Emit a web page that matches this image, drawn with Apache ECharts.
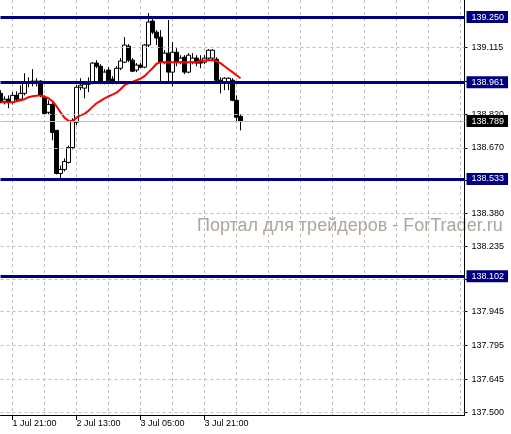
<!DOCTYPE html>
<html>
<head>
<meta charset="utf-8">
<script src="https://cdn.jsdelivr.net/npm/echarts@6/dist/echarts.min.js"></script>
<style>
  html, body { margin: 0; padding: 0; background: #fff; }
  #chart { width: 511px; height: 434px; }
</style>
</head>
<body>
<div id="chart"></div>
<script>
  // H1 bars from 1 Jul 18:00, [open, close, low, high]
  var bars = [
    [138.912, 138.877, 138.868, 138.926],
    [138.877, 138.886, 138.863, 138.899],
    [138.886, 138.872, 138.846, 138.903],
    [138.872, 138.903, 138.863, 138.917],
    [138.903, 138.886, 138.877, 138.921],
    [138.886, 138.912, 138.881, 138.948],
    [138.912, 138.957, 138.903, 139.001],
    [138.957, 138.961, 138.939, 138.983],
    [138.961, 138.966, 138.943, 139.019],
    [138.966, 138.961, 138.943, 138.979],
    [138.966, 138.903, 138.895, 138.970],
    [138.895, 138.823, 138.819, 138.903],
    [138.828, 138.863, 138.819, 138.881],
    [138.863, 138.739, 138.704, 138.872],
    [138.748, 138.557, 138.553, 138.748],
    [138.557, 138.575, 138.535, 138.592],
    [138.575, 138.610, 138.566, 138.624],
    [138.606, 138.672, 138.601, 138.681],
    [138.672, 138.792, 138.664, 138.801],
    [138.784, 138.939, 138.770, 138.948],
    [138.939, 138.948, 138.926, 138.979],
    [138.935, 138.952, 138.890, 138.961],
    [138.952, 138.957, 138.917, 138.983],
    [138.957, 139.046, 138.952, 139.050],
    [139.046, 139.032, 139.023, 139.059],
    [139.032, 138.961, 138.952, 139.041],
    [138.961, 139.006, 138.952, 139.019],
    [139.015, 138.970, 138.957, 139.028],
    [138.975, 138.961, 138.952, 138.988],
    [138.961, 139.023, 138.952, 139.032],
    [139.023, 139.055, 139.015, 139.068],
    [139.050, 139.126, 139.046, 139.161],
    [139.121, 139.059, 139.050, 139.130],
    [139.059, 139.010, 139.006, 139.068],
    [139.015, 139.037, 139.006, 139.046],
    [139.037, 139.028, 139.023, 139.046],
    [139.028, 139.126, 139.023, 139.130],
    [139.126, 139.228, 139.117, 139.268],
    [139.232, 139.183, 139.174, 139.246],
    [139.183, 139.157, 139.126, 139.192],
    [139.161, 139.050, 138.957, 139.192],
    [139.050, 139.090, 139.041, 139.103],
    [139.090, 139.006, 138.957, 139.237],
    [139.006, 139.094, 138.943, 139.139],
    [139.094, 139.050, 139.032, 139.112],
    [139.050, 139.068, 139.041, 139.081],
    [139.072, 139.006, 138.997, 139.081],
    [139.006, 139.081, 139.001, 139.090],
    [139.050, 139.068, 139.041, 139.090],
    [139.068, 139.046, 139.032, 139.081],
    [139.059, 139.046, 139.023, 139.081],
    [139.050, 139.068, 139.041, 139.081],
    [139.068, 139.103, 139.059, 139.108],
    [139.068, 139.103, 139.059, 139.108],
    [139.063, 138.970, 138.961, 139.072],
    [138.970, 138.961, 138.912, 138.983],
    [138.961, 138.979, 138.926, 138.983],
    [138.961, 138.979, 138.926, 138.983],
    [138.970, 138.881, 138.877, 138.979],
    [138.881, 138.806, 138.784, 138.903],
    [138.810, 138.789, 138.748, 138.819]
  ];

  // moving average (red)
  var ma = [
    138.872, 138.872, 138.872, 138.872, 138.877, 138.881, 138.886, 138.895, 138.899, 138.901,
    138.903, 138.897, 138.890, 138.877, 138.855, 138.828, 138.804, 138.790, 138.788, 138.804,
    138.815, 138.821, 138.835, 138.852, 138.868, 138.879, 138.890, 138.899, 138.906, 138.915,
    138.930, 138.948, 138.957, 138.963, 138.970, 138.977, 138.988, 139.006, 139.023, 139.043,
    139.050, 139.050, 139.050, 139.050, 139.050, 139.050, 139.050, 139.050, 139.050, 139.050,
    139.055, 139.057, 139.059, 139.059, 139.055, 139.046, 139.032, 139.019, 139.006, 138.992,
    138.979
  ];

  var levels = [139.250, 138.961, 138.533, 138.102];
  var lastPrice = 138.789;
  var priceTicks = [137.500, 137.645, 137.795, 137.945, 138.090, 138.235, 138.380, 138.525,
    138.670, 138.820, 138.965, 139.115];
  var timeLabels = ['1 Jul 21:00', '2 Jul 13:00', '3 Jul 05:00', '3 Jul 21:00'];
  var timeLabelIndex = [3, 19, 35, 51];
  var slotCount = 117; // bars that fit across the plot

  var categories = [];
  for (var i = 0; i < slotCount; i++) categories.push('');
  timeLabelIndex.forEach(function (idx, k) { categories[idx] = timeLabels[k]; });

  var font = 'Liberation Sans';

  var boxLabel = function (bg) {
    return {
      show: true,
      position: 'end',
      distance: 2,
      formatter: function (p) { return p.value.toFixed(3); },
      backgroundColor: bg,
      color: '#fff',
      fontSize: 9,
      fontFamily: font,
      lineHeight: 11,
      padding: [1, 4, 0, 5]
    };
  };

  var myChart = echarts.init(document.getElementById('chart'));
  myChart.setOption({
    animation: false,
    backgroundColor: '#fff',
    grid: {left: 0.5, right: 46.5, top: 0, bottom: 19},
    graphic: [{
      type: 'text',
      left: 197,
      top: 217,
      silent: true,
      z: 0,
      style: {
        text: 'Портал для трейдеров - ForTrader.ru',
        fontSize: 18,
        fontFamily: font,
        fill: '#b0a3a3'
      }
    }],
    xAxis: {
      type: 'category',
      data: categories,
      boundaryGap: false,
      axisLine: {lineStyle: {color: '#000', width: 1}},
      axisTick: {
        show: true,
        length: 5,
        interval: function (idx, val) { return val !== ''; },
        lineStyle: {color: '#000'}
      },
      axisLabel: {
        interval: function (idx, val) { return val !== ''; },
        align: 'left',
        margin: 4,
        fontSize: 9,
        fontFamily: font,
        color: '#000'
      },
      splitLine: {
        show: true,
        interval: function (idx) { return idx >= 3 && (idx - 3) % 8 === 0; },
        lineStyle: {color: '#c0c0c0', type: [3, 3], width: 1}
      }
    },
    yAxis: {
      type: 'value',
      position: 'right',
      min: 137.487,
      max: 139.3255,
      splitLine: {show: false},
      axisLine: {show: true, lineStyle: {color: '#000', width: 1}},
      axisTick: {show: true, length: 3, customValues: priceTicks, lineStyle: {color: '#000'}},
      axisLabel: {
        customValues: priceTicks,
        formatter: function (v) { return v.toFixed(3); },
        margin: 7,
        fontSize: 9,
        fontFamily: font,
        color: '#000'
      }
    },
    series: [
      {
        // horizontal grid
        type: 'line',
        data: [],
        z: 1,
        silent: true,
        markLine: {
          silent: true,
          symbol: 'none',
          precision: 3,
          label: {show: false},
          lineStyle: {color: '#c0c0c0', type: [3, 3], width: 1},
          data: priceTicks.map(function (v) { return {yAxis: v}; })
        }
      },
      {
        type: 'candlestick',
        data: bars,
        barWidth: 4,
        z: 2,
        itemStyle: {
          color: '#fff',
          color0: '#000',
          borderColor: '#000',
          borderColor0: '#000',
          borderWidth: 1
        }
      },
      {
        // current price
        type: 'line',
        data: [],
        z: 2,
        markLine: {
          silent: true,
          symbol: 'none',
          precision: 3,
          lineStyle: {color: '#c0c0c0', type: 'solid', width: 1},
          label: boxLabel('#000'),
          data: [{yAxis: lastPrice}]
        }
      },
      {
        // support / resistance levels
        type: 'line',
        data: [],
        z: 3,
        markLine: {
          silent: true,
          symbol: 'none',
          precision: 3,
          lineStyle: {color: '#000080', type: 'solid', width: 3},
          label: boxLabel('#000080'),
          data: levels.map(function (v) { return {yAxis: v}; })
        }
      },
      {
        type: 'line',
        data: ma,
        z: 4,
        showSymbol: false,
        symbol: 'none',
        lineStyle: {color: '#ff0000', width: 2}
      }
    ]
  });
</script>
</body>
</html>
